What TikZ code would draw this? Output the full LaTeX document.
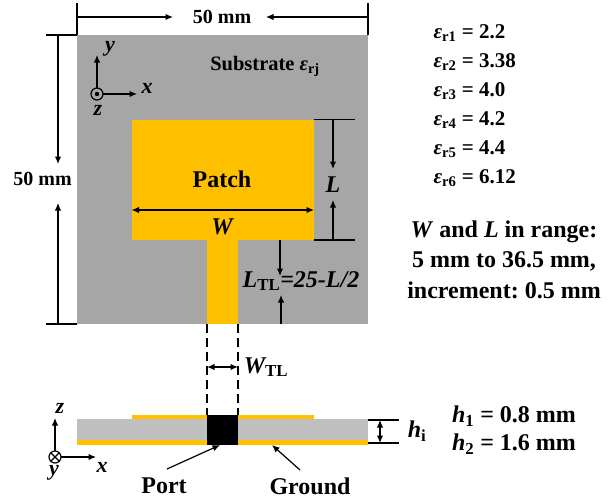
\documentclass[tikz,border=0pt]{standalone}
\usepackage{fontspec}
\setmainfont{Liberation Serif}
\usepackage{xcolor}
\usetikzlibrary{arrows.meta}
\definecolor{subgray}{HTML}{A6A6A6}
\definecolor{sidegray}{HTML}{BFBFBF}
\definecolor{patchgold}{HTML}{FFC000}
\newcommand{\vi}[1]{\textit{#1}}
\newcommand{\sbs}[1]{\textsubscript{#1}}
\frenchspacing

\begin{document}
\begin{tikzpicture}[x=1pt, y=-1pt, line width=1.2pt, >={Latex[length=7.5pt, width=6.5pt]},
    txt/.style={font=\fontsize{20}{22}\selectfont\bfseries, inner sep=0pt},
    big/.style={font=\fontsize{24}{26}\selectfont\bfseries, inner sep=0pt},
    axis/.style={font=\fontsize{22}{24}\selectfont\bfseries\itshape, inner sep=0pt},
    quantity/.style={font=\fontsize{24}{26}\selectfont\bfseries\itshape, inner sep=0pt}]
    \useasboundingbox (0, 0) rectangle (609, 498);

    % draw substrate, patch and feed
    \fill[color=subgray] (77, 35) rectangle (368, 324);
    \fill[color=patchgold] (131.5, 119.5) rectangle (314, 240);
    \fill[color=patchgold] (207, 240) rectangle (238, 324);

    % draw 50 mm dimensions
    \draw (77, 3) -- (77, 35);
    \draw (368, 3) -- (368, 35);
    \draw[->] (77, 17) -- (173, 17);
    \draw[->] (368, 17) -- (266, 17);
    \node[txt] (widthlabel) at (222, 17) {50 mm};
    \draw (46, 35) -- (77, 35);
    \draw (46, 324) -- (77, 324);
    \draw[->] (58, 35) -- (58, 164);
    \draw[->] (58, 324) -- (58, 203);
    \node[txt] (heightlabel) at (42.5, 179) {50 mm};

    % draw top view axes
    \draw (97, 94) circle (6);
    \fill (97, 94) circle (2.2);
    \draw[->] (97, 88) -- (97, 55);
    \draw[->] (103, 94) -- (137, 94);
    \node[axis] (topy) at (110, 49) {y};
    \node[axis] (topx) at (147, 88) {x};
    \node[axis] (topz) at (98, 110) {z};

    \node[txt, font=\fontsize{20.5}{22}\selectfont\bfseries] (substrate) at (265, 66) {Substrate \vi{ε}\sbs{rj}};
    \node[big] (patch) at (222, 179) {Patch};

    % draw W and L
    \draw[<->] (131.5, 210) -- (314, 210);
    \node[quantity] (wlabel) at (222, 227) {W};
    \draw (314, 119.5) -- (355, 119.5);
    \draw (314, 240) -- (355, 240);
    \draw[->] (333, 119.5) -- (333, 169);
    \draw[->] (333, 240) -- (333, 200);
    \node[quantity] (llabel) at (333, 185) {L};

    % draw L_TL
    \draw[->] (280, 240) -- (280, 276);
    \draw[->] (281, 324) -- (281, 295);
    \node[quantity] (ltl) at (301, 281) {L\sbs{\upshape TL}=25-L/2};

    % draw W_TL
    \draw[dashed, dash pattern=on 9pt off 5pt] (207, 324) -- (207, 415);
    \draw[dashed, dash pattern=on 9pt off 5pt] (238, 324) -- (238, 415);
    \draw[<->] (207, 367) -- (238, 367);
    \node[quantity] (wtl) at (266, 367) {W\sbs{\upshape TL}};

    % draw side view
    \fill[color=sidegray] (77, 419) rectangle (368, 440);
    \fill[color=patchgold] (131.5, 414.5) rectangle (314, 419);
    \fill[color=patchgold] (77, 440) rectangle (368, 445);
    \fill[color=black] (207, 414.5) rectangle (238, 445);

    % draw side view axes
    \draw (55, 457) circle (6);
    \draw (50.8, 452.8) -- (59.2, 461.2);
    \draw (50.8, 461.2) -- (59.2, 452.8);
    \draw[->] (55, 451) -- (55, 418);
    \draw[->] (61, 457) -- (96, 457);
    \node[axis] (sidez) at (60, 408) {z};
    \node[axis] (sidex) at (102, 467) {x};
    \node[axis] (sidey) at (54, 473) {y};

    % draw port and ground
    \node[big] (port) at (164, 486) {Port};
    \node[big] (ground) at (310, 486) {Ground};
    \draw[->] (167, 469) -- (220, 445);
    \draw[->] (300, 470) -- (272, 445);

    % draw h_i
    \draw (368, 420) -- (399, 420);
    \draw (368, 443) -- (399, 443);
    \draw[<->] (380, 420) -- (380, 443);
    \node[quantity] (hlabel) at (417, 431) {h\sbs{\upshape i}};

    \node[big] (hone) at (514, 416) {\vi{h}\sbs{1} = 0.8 mm};
    \node[big] (htwo) at (514, 444) {\vi{h}\sbs{2} = 1.6 mm};

    % draw permittivity list
    \foreach \n/\y/\val in {1/33/2.2, 2/62/3.38, 3/91/4.0, 4/120/4.2, 5/149/4.4, 6/178/6.12}
      \node[txt, anchor=west, font=\fontsize{21}{22}\selectfont\bfseries] (eps\n) at (433, \y) {\vi{ε}\sbs{r\n} = \val};

    % draw range text
    \node[big] (rangea) at (504, 232) {\vi{W} and \vi{L} in range:};
    \node[big] (rangeb) at (504, 261) {5 mm to 36.5 mm,};
    \node[big] (rangec) at (504, 290) {increment: 0.5 mm};
\end{tikzpicture}
\end{document}
